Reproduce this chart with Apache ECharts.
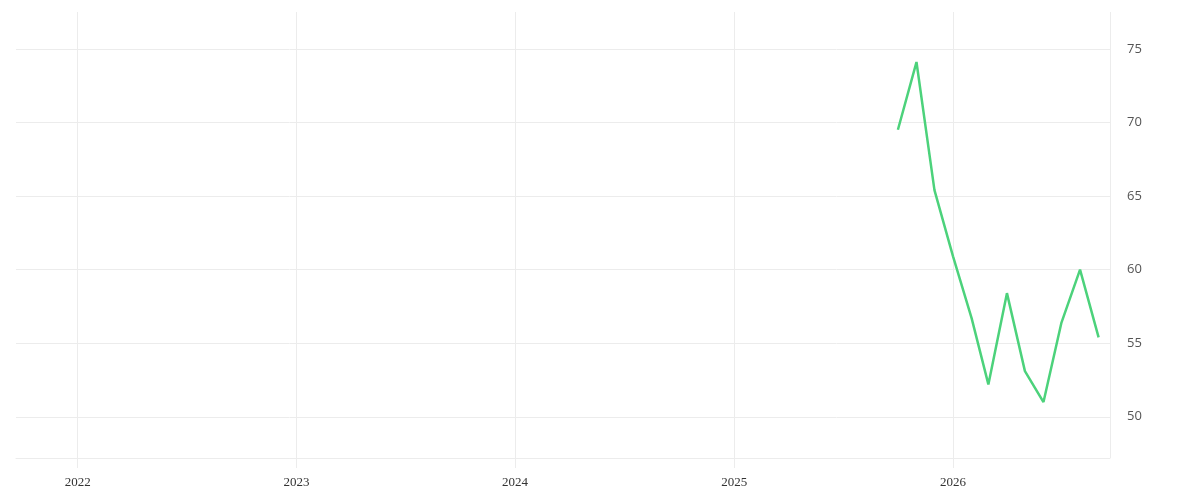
<!DOCTYPE html>
<html>
<head>
<meta charset="utf-8">
<script src="https://cdn.jsdelivr.net/npm/echarts@6/dist/echarts.min.js"></script>
<style>
html,body{margin:0;padding:0;background:#fff;}
#chart{width:1200px;height:500px;}
</style>
</head>
<body>
<div id="chart"></div>
<script>
const dates = ['2025-10-01','2025-11-01','2025-12-01','2026-01-01','2026-02-01','2026-03-01','2026-04-01','2026-05-01','2026-06-01','2026-07-01','2026-08-01','2026-09-01'];
const values = [69.5, 74.1, 65.4, 60.9, 56.7, 52.2, 58.4, 53.1, 51.0, 56.4, 60.0, 55.4];
const xRange = ['2021-09-20', '2026-09-20'];
const yRange = [47.2, 77.5];

const chart = echarts.init(document.getElementById('chart'));
const gridColor = '#ececec';
chart.setOption({
  animation: false,
  grid: { left: 16, right: 90, top: 12, bottom: 42, containLabel: false },
  xAxis: {
    type: 'time',
    min: xRange[0],
    max: xRange[1],
    splitNumber: 5,
    axisLine: { show: true, lineStyle: { color: gridColor, width: 1 } },
    axisTick: { show: true, length: 10, lineStyle: { color: gridColor } },
    splitLine: { show: true, showMinLine: false, showMaxLine: true, lineStyle: { color: gridColor, width: 1 } },
    axisLabel: {
      showMinLabel: false, showMaxLabel: false,
      margin: 18,
      fontFamily: 'Liberation Serif', fontSize: 13, color: '#333',
      formatter: v => String(new Date(v).getFullYear())
    }
  },
  yAxis: {
    type: 'value',
    position: 'right',
    min: yRange[0],
    max: yRange[1],
    splitNumber: 5,
    axisLine: { show: false },
    axisTick: { show: false },
    splitLine: { show: true, showMinLine: true, showMaxLine: false, lineStyle: { color: gridColor, width: 1 } },
    axisLabel: {
      showMinLabel: false, showMaxLabel: false,
      margin: 17,
      fontFamily: 'Open Sans', fontWeight: 'normal', fontSize: 13, color: '#555'
    }
  },
  series: [{
    type: 'line',
    data: dates.map((d, i) => [d, values[i]]),
    showSymbol: false,
    symbol: 'none',
    lineStyle: { color: '#4cd27b', width: 2.5 },
    itemStyle: { color: '#4cd27b' }
  }]
});
</script>
</body>
</html>
